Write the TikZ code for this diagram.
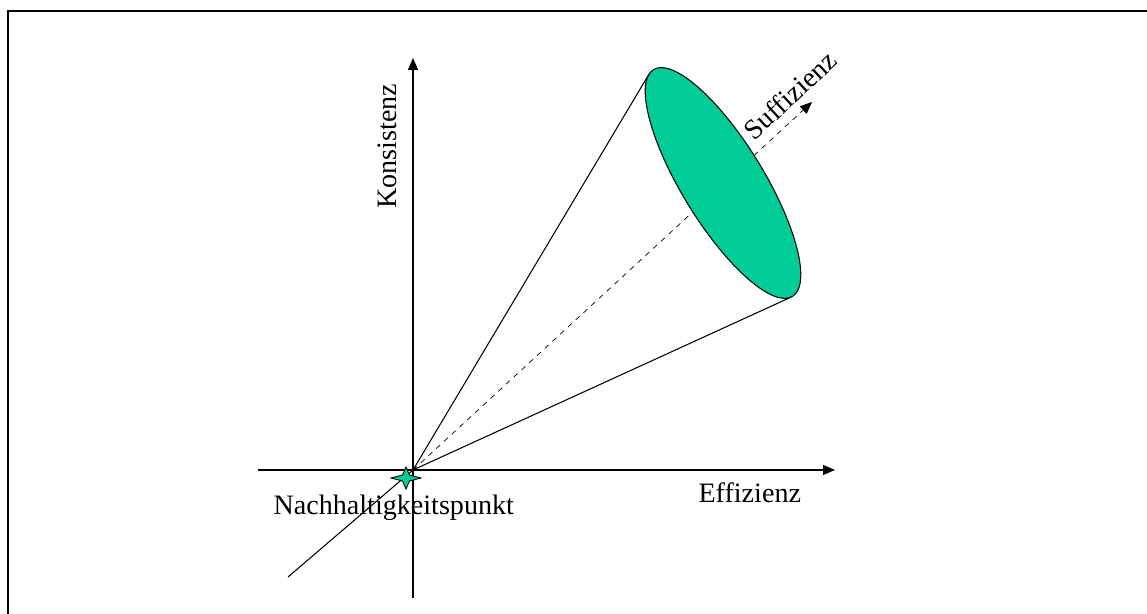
\documentclass[tikz,border=0pt]{standalone}
\usepackage{fontspec}
\setmainfont{Liberation Serif}
\usetikzlibrary{arrows.meta}
\definecolor{discgreen}{HTML}{00CC99}
\begin{document}
\begin{tikzpicture}[x=0.02cm, y=0.02cm, line width=0.6pt,
		axis/.style={-{Triangle[length=0.24cm, width=0.2cm]}},
		disc/.style={draw=black, fill=discgreen},
		frame/.style={line width=1.2pt},
		label/.style={font=\fontsize{16}{19}\selectfont, inner sep=0pt}]
	\useasboundingbox (0,0) rectangle (1147,614);
	\draw[frame] (8,0) |- (1147,603.3);
	% axes
	\coordinate (origin) at (413,144);
	\coordinate (xstart) at (258,144);
	\coordinate (xend) at (835,144);
	\coordinate (ystart) at (413,16);
	\coordinate (yend) at (413,556);
	\coordinate (sfstart) at (288,37);
	\coordinate (sfend) at (812,512);
	\draw[axis, dashed, line width=0.4pt] (origin) -- (sfend);
	\draw (sfstart) -- (origin);
	% disc
	\begin{scope}[shift={(723,431)}, rotate=-58.5]
		\draw[disc] (0,0) ellipse [x radius=133, y radius=41];
		\coordinate (rimtop) at (-170.8:133 and 41);
		\coordinate (rimbot) at (-2.1:133 and 41);
	\end{scope}
	\draw (origin) -- (rimtop);
	\draw (origin) -- (rimbot);
	\draw[axis] (xstart) -- (xend);
	\draw[axis] (ystart) -- (yend);
	% point
	\begin{scope}[shift={(406,136)}]
		\draw[disc, line width=0.5pt] (-15,0) -- (-3.5,3) -- (0,11) -- (3.5,3) -- (15,0)
			-- (3.5,-3) -- (0,-11) -- (-3.5,-3) -- cycle;
	\end{scope}
	\node[label, anchor=base west] (nhp) at (273,99) {Nachhaltigkeitspunkt};
	\node[label, anchor=base west] (eff) at (698,111) {Effizienz};
	\node[label, anchor=base, rotate=90] (kon) at (396,468) {Konsistenz};
	\node[label, rotate=42.7] (suf) at (790,519) {Suffizienz};
\end{tikzpicture}
\end{document}
